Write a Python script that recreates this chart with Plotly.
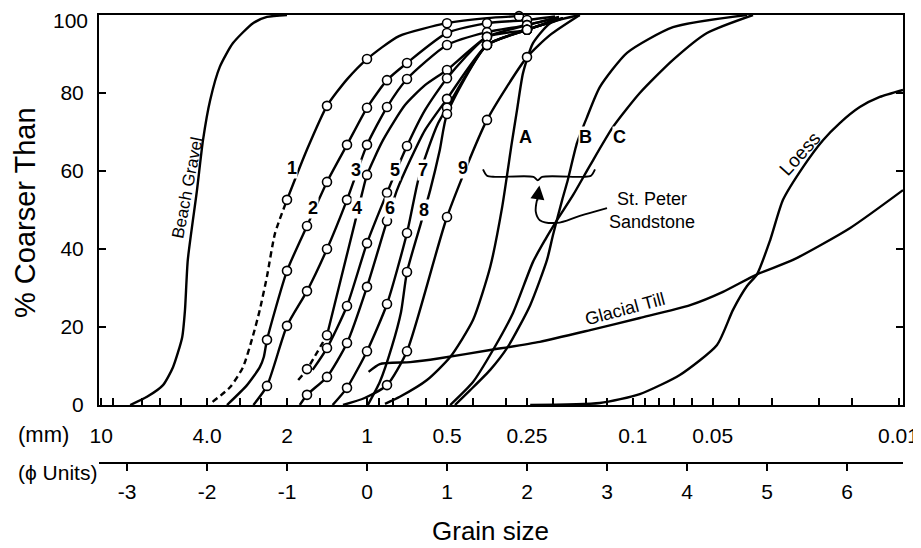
import math
import plotly.graph_objects as go

# ---------------- data (phi units, % coarser than) ----------------
c1_mk_phi = [-1.0, -0.5, 0.0, 1.0, 1.9]
c1_mk_pct = [52.6, 76.7, 88.7, 97.9, 99.7]
c1_ex_phi = [-0.75, -0.25, 0.4, 1.5]
c1_ex_pct = [65.5, 83.5, 94.6, 99.2]
c1_dash_phi = [-1.93, -1.71, -1.55, -1.43, -1.34, -1.25, -1.15, -1.0]
c1_dash_pct = [0.8, 4.6, 9.7, 17.4, 24.4, 33.0, 44.0, 52.6]

c2_mk_phi = [-1.25, -1.0, -0.75, -0.5, -0.25, 0.0, 0.25, 0.5, 1.0, 1.5, 2.0]
c2_mk_pct = [16.7, 34.4, 45.9, 57.2, 66.7, 76.2, 83.3, 87.7, 95.4, 97.9, 98.7]
c2_ex_phi = [-1.75, -1.5, -1.34, -1.29, 2.35]
c2_ex_pct = [0.0, 5.1, 9.7, 12.3, 99.6]

c3_mk_phi = [-1.25, -1.0, -0.75, -0.5, -0.25, 0.0, 0.25, 0.5, 1.0, 1.5, 2.0]
c3_mk_pct = [4.9, 20.3, 29.2, 40.0, 52.6, 66.7, 76.4, 83.6, 92.3, 95.6, 97.4]
c3_ex_phi = [-1.42, 2.4]
c3_ex_pct = [0.0, 99.5]

c4_mk_phi = [-0.5, 0.0, 1.0, 1.5, 2.0]
c4_mk_pct = [17.9, 59.0, 85.9, 94.4, 97.4]
c4_ex_phi = [-0.33, -0.15, -0.06, 0.2, 0.475, 0.725, 2.4]
c4_ex_pct = [32.0, 46.9, 54.4, 67.9, 76.9, 82.0, 99.4]
c4_dash_phi = [-0.86, -0.75, -0.5]
c4_dash_pct = [6.4, 9.2, 17.9]

c5_mk_phi = [-0.5, -0.25, 0.0, 0.25, 0.5, 1.0, 1.5, 2.0]
c5_mk_pct = [14.6, 25.4, 41.5, 54.4, 66.4, 83.8, 94.4, 96.2]
c5_ex_phi = [-0.68, 0.725, 2.4]
c5_ex_pct = [9.0, 75.6, 99.3]

c6_mk_phi = [-0.75, -0.5, -0.25, 0.0, 0.25, 1.0, 1.5, 2.0]
c6_mk_pct = [2.6, 7.2, 15.9, 30.3, 47.2, 78.5, 92.3, 96.2]
c6_ex_phi = [-0.84, 0.375, 0.54, 0.725, 2.45]
c6_ex_pct = [0.0, 55.1, 62.8, 70.5, 99.2]

c7_mk_phi = [-0.25, 0.0, 0.25, 0.5, 1.0, 1.5, 2.0]
c7_mk_pct = [4.4, 13.8, 25.9, 44.1, 76.2, 92.3, 96.2]
c7_ex_phi = [-0.43, 0.64, 0.76, 0.89, 2.45]
c7_ex_pct = [0.0, 57.7, 65.4, 72.3, 99.2]

c8_mk_phi = [0.5, 1.0, 1.5, 2.0]
c8_mk_pct = [34.1, 74.6, 92.3, 96.2]
c8_ex_phi = [0.01, 0.16, 0.31, 0.425, 0.675, 0.79, 0.91, 2.45]
c8_ex_pct = [0.0, 5.9, 14.9, 23.8, 46.7, 55.1, 65.4, 99.2]

c9_mk_phi = [0.25, 0.5, 1.0, 1.5, 2.0]
c9_mk_pct = [5.1, 13.8, 48.2, 73.1, 89.2]
c9_ex_phi = [-0.3, -0.03, 2.29, 2.66]
c9_ex_pct = [0.0, 1.8, 94.9, 100.0]

beach_phi = [-2.96, -2.75, -2.55, -2.425, -2.31, -2.275, -2.24, -2.125, -2.05, -1.96, -1.84, -1.675, -1.425, -1.25, -1.0]
beach_pct = [0.0, 2.1, 5.1, 9.7, 17.4, 24.4, 37.2, 55.1, 67.9, 78.2, 86.7, 92.8, 97.9, 99.5, 100.0]

a_phi = [0.225, 0.41, 0.75, 1.04, 1.325, 1.54, 1.69, 1.81, 1.875, 1.95, 2.075, 2.29, 2.66]
a_pct = [0.3, 2.1, 6.4, 12.3, 21.8, 35.4, 50.8, 67.2, 75.6, 85.1, 92.8, 97.9, 100.0]

b_phi = [1.1, 1.29, 1.54, 1.76, 2.04, 2.25, 2.325, 2.44, 2.51, 2.625, 2.75, 2.91, 3.25, 3.825, 4.75]
b_pct = [0.0, 3.8, 9.0, 14.9, 25.6, 37.2, 43.6, 52.6, 57.7, 67.2, 73.8, 81.5, 90.3, 96.9, 100.0]

c_phi = [1.04, 1.325, 1.575, 1.825, 2.075, 2.225, 2.375, 2.575, 2.79, 3.075, 3.41, 3.825, 4.25, 4.825]
c_pct = [0.0, 5.9, 14.1, 23.6, 36.7, 42.3, 47.4, 53.8, 61.5, 71.3, 80.0, 88.5, 95.4, 100.0]

loess_phi = [2.04, 2.91, 3.41, 3.91, 4.375, 4.575, 4.75, 4.875, 5.04, 5.2, 5.45, 5.7, 5.91, 6.16, 6.41, 6.7]
loess_pct = [0.0, 0.5, 2.8, 7.7, 15.4, 24.4, 30.5, 33.5, 42.3, 52.6, 61.0, 67.9, 72.3, 76.4, 79.0, 80.8]

till_phi = [0.02, 0.16, 0.54, 0.91, 1.54, 2.16, 2.79, 3.41, 4.04, 4.45, 4.875, 5.325, 6.04, 6.7]
till_pct = [8.5, 10.5, 11.0, 12.0, 14.1, 16.2, 19.2, 22.3, 25.6, 29.0, 33.5, 37.2, 45.4, 55.1]

brace_phi = [1.45, 1.5, 1.6, 2.08, 2.135, 2.19, 2.7, 2.8, 2.85]
brace_pct = [60.4, 58.8, 58.5, 58.5, 57.6, 58.5, 58.5, 58.8, 60.4]
pointer_phi = [3.0, 2.66, 2.375, 2.16, 2.11, 2.125]
pointer_pct = [50.5, 48.5, 46.7, 47.4, 49.5, 52.6]

mm_major = [10, 4.0, 2, 1, 0.5, 0.25, 0.1, 0.05, 0.01]
mm_major_text = ["10", "4.0", "2", "1", "0.5", "0.25", "0.1", "0.05", "0.01"]
mm_minor = [9, 7, 6, 5, 3, 2.5, 1.5, 0.9, 0.8, 0.7, 0.6, 0.4, 0.3, 0.2, 0.15, 0.125,
            0.09, 0.08, 0.07, 0.06, 0.04, 0.03, 0.02, 0.015]
phi_ticks = [-3, -2, -1, 0, 1, 2, 3, 4, 5, 6]
pct_ticks = [0, 20, 40, 60, 80, 100]
pct_text = ["0", "20", "40", "60", "80", ""]   # "100" is set as a separate text below the page edge

curve_labels = ["1", "2", "3", "4", "5", "6", "7", "8", "9", "A", "B", "C"]
label_phi = [-0.94, -0.675, -0.14, -0.125, 0.35, 0.29, 0.7, 0.71, 1.2, 1.975, 2.725, 3.16]
label_pct = [60.8, 50.5, 60.3, 50.5, 60.3, 50.5, 60.3, 50.0, 60.8, 68.7, 68.7, 68.7]

# ---------------- figure ----------------
FONT = "Liberation Sans, Arial, Helvetica, sans-serif"
LW = 2.4
TICKF = dict(family=FONT, size=21, color="black")


def mm_to_phi(v):
    return -math.log2(v)


fig = go.Figure()


def add_line(xs, ys, dash="solid"):
    fig.add_trace(go.Scatter(x=xs, y=ys, mode="lines",
                             line=dict(color="black", width=LW, dash=dash, shape="spline", smoothing=0.6),
                             hoverinfo="skip"))


def add_marked(mk_x, mk_y, ex_x, ex_y):
    pts = sorted(zip(mk_x + ex_x, mk_y + ex_y))
    add_line([p[0] for p in pts], [p[1] for p in pts])


marked = [
    (c1_mk_phi, c1_mk_pct, c1_ex_phi, c1_ex_pct),
    (c2_mk_phi, c2_mk_pct, c2_ex_phi, c2_ex_pct),
    (c3_mk_phi, c3_mk_pct, c3_ex_phi, c3_ex_pct),
    (c4_mk_phi, c4_mk_pct, c4_ex_phi, c4_ex_pct),
    (c5_mk_phi, c5_mk_pct, c5_ex_phi, c5_ex_pct),
    (c6_mk_phi, c6_mk_pct, c6_ex_phi, c6_ex_pct),
    (c7_mk_phi, c7_mk_pct, c7_ex_phi, c7_ex_pct),
    (c8_mk_phi, c8_mk_pct, c8_ex_phi, c8_ex_pct),
    (c9_mk_phi, c9_mk_pct, c9_ex_phi, c9_ex_pct),
]

for mx, my, ex, ey in marked:
    add_marked(mx, my, ex, ey)
add_line(c1_dash_phi, c1_dash_pct, dash="6px,4px")
add_line(c4_dash_phi, c4_dash_pct, dash="6px,4px")

for xs, ys in [(beach_phi, beach_pct), (a_phi, a_pct), (b_phi, b_pct), (c_phi, c_pct),
               (loess_phi, loess_pct), (till_phi, till_pct)]:
    add_line(xs, ys)

fig.add_trace(go.Scatter(x=brace_phi, y=brace_pct, mode="lines",
                         line=dict(color="black", width=1.9, shape="spline", smoothing=0.8), hoverinfo="skip"))
fig.add_trace(go.Scatter(x=pointer_phi, y=pointer_pct, mode="lines",
                         line=dict(color="black", width=1.9, shape="spline", smoothing=1.0), hoverinfo="skip"))

all_mx, all_my = [], []
for mx, my, _, _ in marked:
    all_mx += mx
    all_my += my
all_mx += [c4_dash_phi[1]]
all_my += [c4_dash_pct[1]]
fig.add_trace(go.Scatter(x=all_mx, y=all_my, mode="markers",
                         marker=dict(symbol="circle", size=9, color="white",
                                     line=dict(color="black", width=1.6)),
                         hoverinfo="skip", cliponaxis=False))

# the phi scale shares the curves' values: Beach Gravel again on x2, invisible, so that axis is drawn
fig.add_trace(go.Scatter(x=beach_phi, y=beach_pct, xaxis="x2", yaxis="y", mode="lines",
                         line=dict(color="rgba(0,0,0,0)", width=0), hoverinfo="skip", showlegend=False))

for t, lx, ly in zip(curve_labels, label_phi, label_pct):
    fig.add_annotation(x=lx, y=ly, xref="x", yref="y", text="<b>%s</b>" % t, showarrow=False,
                       font=dict(family=FONT, size=18, color="black"), bgcolor="white", borderpad=0)

fig.add_annotation(x=-2.25, y=55.6, xref="x", yref="y", text="Beach Gravel", textangle=-79,
                   showarrow=False, font=dict(family=FONT, size=17, color="black"))
fig.add_annotation(x=5.41, y=64.6, xref="x", yref="y", text="Loess", textangle=-48,
                   showarrow=False, font=dict(family=FONT, size=19, color="black"))
fig.add_annotation(x=3.225, y=24.6, xref="x", yref="y", text="Glacial Till", textangle=-15,
                   showarrow=False, font=dict(family=FONT, size=18, color="black"))
fig.add_annotation(x=3.56, y=50.0, xref="x", yref="y", text="St. Peter<br>Sandstone", align="center",
                   showarrow=False, font=dict(family=FONT, size=18, color="black"))
fig.add_annotation(x=2.155, y=56.3, ax=2.125, ay=52.0, xref="x", yref="y", axref="x", ayref="y",
                   text="", showarrow=True, arrowhead=2, arrowsize=1.4, arrowwidth=2, arrowcolor="black")

# paper fractions: x = (px - 99) / 804, y = (463 - py) / 448
side_txt = [("(mm)", (43 - 99) / 804, (463 - 434) / 448, 22, 0),
            ("(\u03d5 Units)", (57 - 99) / 804, (463 - 472) / 448, 21, 0),
            ("Grain size", (490 - 99) / 804, (463 - 531) / 448, 26, 0),
            ("% Coarser Than", (25 - 99) / 804, (463 - 213) / 448, 29, -90)]
for t, px, py, fs, ang in side_txt:
    fig.add_annotation(x=px, y=py, xref="paper", yref="paper", text=t, showarrow=False,
                       xanchor="center", yanchor="middle", textangle=ang,
                       font=dict(family=FONT, size=fs, color="black"))
# top y tick label, kept just inside the page
fig.add_annotation(x=(89 - 99) / 804, y=(463 - 8) / 448, xref="paper", yref="paper", text=str(pct_ticks[-1]),
                   showarrow=False, xanchor="right", yanchor="top", borderpad=0,
                   font=dict(family=FONT, size=21, color="black"))

xr = [-3.35, 6.7]
fig.update_layout(
    width=921, height=548,
    margin=dict(l=91, r=26, t=7, b=93, autoexpand=False),
    plot_bgcolor="white", paper_bgcolor="white",
    showlegend=False,
    font=dict(family=FONT, size=18, color="black"),
    xaxis=dict(range=xr, anchor="y", showgrid=False, zeroline=False, automargin=False,
               showline=True, linecolor="black", linewidth=2, mirror=True,
               tickmode="array", tickvals=[mm_to_phi(v) for v in mm_major], ticktext=mm_major_text,
               ticks="inside", ticklen=7, tickwidth=1.5, tickcolor="black",
               ticklabelstandoff=11, ticklabeloverflow="allow", tickfont=TICKF,
               minor=dict(tickmode="array", tickvals=[mm_to_phi(v) for v in mm_minor],
                          ticks="inside", ticklen=7, tickwidth=1.5, tickcolor="black", showgrid=False)),
    xaxis2=dict(range=xr, overlaying="x", anchor="free", position=0, side="bottom", automargin=False,
                showgrid=False, zeroline=False, showline=True, linecolor="black", linewidth=1.5,
                tickmode="array", tickvals=phi_ticks, ticktext=[str(v) for v in phi_ticks],
                ticks="outside", ticklen=7, tickwidth=1.5, tickcolor="black",
                ticklabelstandoff=3, ticklabeloverflow="allow", tickfont=TICKF),
    yaxis=dict(range=[0, 100], domain=[58 / 448, 1], showgrid=False, zeroline=False, automargin=False,
               showline=True, linecolor="black", linewidth=2, mirror="ticks",
               tickmode="array", tickvals=pct_ticks, ticktext=pct_text, ticks="inside", ticklen=7,
               tickwidth=1.5, tickcolor="black", ticklabelstandoff=9, ticklabeloverflow="allow",
               tickfont=TICKF),
)

fig.write_html("out.html")
